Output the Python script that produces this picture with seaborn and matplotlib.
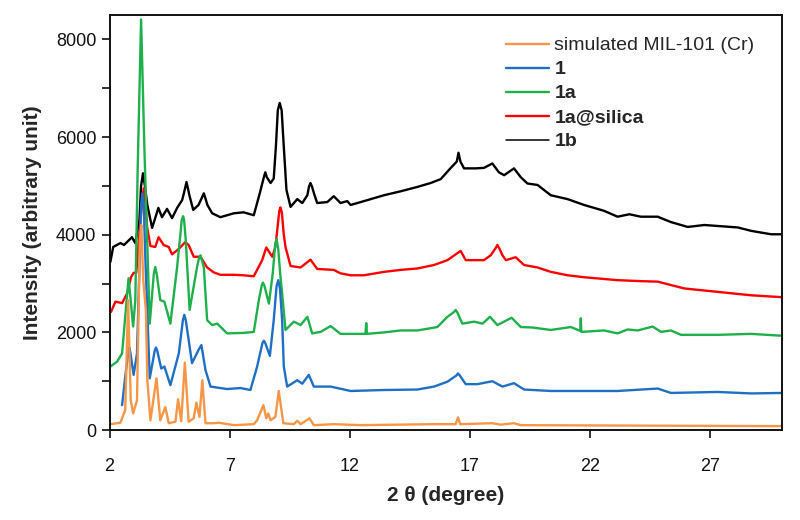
import matplotlib
matplotlib.use("Agg")
import matplotlib.pyplot as plt
from matplotlib.lines import Line2D
from matplotlib.ticker import MultipleLocator
import seaborn as sns
import pandas as pd

# PXRD patterns: 2theta (degree), intensity (arbitrary unit)
sim_x = [2.03, 2.45, 2.65, 2.77, 2.88, 2.98, 3.14, 3.26, 3.32, 3.40, 3.51, 3.57, 3.70, 3.95, 4.11,
         4.32, 4.46, 4.74, 4.85, 4.98, 5.13, 5.29, 5.50, 5.61, 5.74, 5.86, 5.99, 6.33, 6.54, 7.17,
         8.00, 8.14, 8.40, 8.52, 8.60, 8.70, 8.90, 9.04, 9.23, 9.67, 9.81, 9.95, 10.32, 10.50, 11.33,
         12.45, 15.50, 16.40, 16.50, 16.59, 17.93, 18.28, 18.83, 19.11, 24.53, 30.03]
sim_y = [120, 150, 410, 2660, 610, 340, 610, 3890, 4200, 3070, 2460, 1020, 200, 1060, 200,
         470, 140, 170, 630, 180, 1380, 170, 240, 560, 270, 1020, 140, 140, 150, 100,
         120, 200, 510, 240, 340, 200, 270, 800, 140, 120, 190, 120, 240, 100, 120,
         100, 120, 120, 260, 120, 140, 110, 140, 100, 90, 80]

s1_x = [2.52, 2.65, 2.78, 2.82, 2.86, 3.00, 3.14, 3.25, 3.31, 3.36, 3.42, 3.49, 3.67, 3.88, 3.93,
        3.98, 4.15, 4.28, 4.53, 4.88, 5.05, 5.11, 5.17, 5.23, 5.43, 5.70, 5.82, 5.99, 6.20, 6.89,
        7.45, 7.86, 8.14, 8.36, 8.42, 8.48, 8.67, 8.83, 8.95, 9.02, 9.09, 9.18, 9.25, 9.39, 9.81,
        10.02, 10.29, 10.50, 11.20, 12.03, 13.42, 14.81, 15.50, 16.06, 16.44, 16.50, 16.57, 16.82,
        17.31, 17.93, 18.35, 18.83, 19.25, 20.36, 21.75, 23.14, 24.81, 25.36, 27.31, 28.70, 30.03]
s1_y = [510, 1090, 1600, 1690, 1600, 1130, 1570, 3480, 4600, 4850, 4600, 3480, 1060, 1630, 1690,
        1630, 1260, 1300, 920, 1570, 2250, 2360, 2250, 2050, 1370, 1640, 1740, 1230, 890, 840,
        860, 820, 1300, 1780, 1830, 1780, 1520, 2250, 2950, 3070, 2900, 2250, 1300, 890, 1020,
        950, 1130, 890, 890, 800, 820, 830, 890, 990, 1120, 1160, 1120, 940,
        940, 1000, 890, 960, 830, 800, 800, 800, 850, 760, 780, 750, 760]

s1a_x = [2.03, 2.31, 2.52, 2.65, 2.79, 2.98, 3.07, 3.17, 3.31, 3.45, 3.67, 3.84, 3.90, 3.96, 4.11,
         4.28, 4.53, 4.81, 4.95, 5.00, 5.06, 5.10, 5.17, 5.33, 5.64, 5.72, 5.78, 5.92, 6.06, 6.27,
         6.48, 6.89, 7.58, 8.00, 8.21, 8.33, 8.38, 8.44, 8.63, 8.79, 8.89, 8.95, 9.02, 9.10, 9.18,
         9.32, 9.67, 9.95, 10.23, 10.43, 10.78, 11.20, 11.61, 12.45, 12.65, 12.68, 12.71, 13.42,
         14.11, 14.81, 15.64, 16.06, 16.34, 16.40, 16.48, 16.68, 17.17, 17.52, 17.83, 18.14, 18.73,
         19.11, 19.60, 20.36, 21.20, 21.59, 21.61, 21.63, 22.58, 23.14, 23.56, 23.98, 24.60, 24.95,
         25.36, 25.78, 27.31, 28.70, 30.03]
s1a_y = [1300, 1400, 1570, 2320, 3110, 2120, 2660, 5390, 8410, 5730, 2180, 3200, 3340, 3200, 2660,
         2630, 2180, 3340, 4030, 4300, 4380, 4300, 3890, 2460, 3340, 3520, 3580, 3340, 2250, 2150,
         2180, 1980, 1990, 2010, 2660, 2960, 3020, 2960, 2590, 3210, 3800, 3910, 3700, 3200, 2800,
         2050, 2220, 2150, 2320, 1980, 2010, 2130, 1970, 1970, 1970, 2190, 1970, 2000,
         2040, 2040, 2110, 2320, 2420, 2460, 2400, 2180, 2220, 2180, 2320, 2150, 2300,
         2110, 2100, 2050, 2110, 2030, 2290, 2010, 2040, 1980, 2060, 2040, 2120, 2010,
         2040, 1950, 1950, 1970, 1930]

silica_x = [2.06, 2.24, 2.52, 2.73, 2.89, 3.00, 3.11, 3.25, 3.36, 3.42, 3.48, 3.56, 3.70, 3.90, 4.04,
            4.25, 4.46, 4.60, 4.88, 5.15, 5.29, 5.50, 5.78, 6.06, 6.33, 6.61, 7.17, 7.58, 8.00, 8.35,
            8.52, 8.77, 8.90, 9.00, 9.06, 9.11, 9.17, 9.25, 9.32, 9.53, 9.95, 10.36, 10.64, 11.33,
            11.61, 12.03, 12.58, 13.42, 14.11, 14.81, 15.50, 16.06, 16.61, 16.82, 17.24, 17.58, 17.86,
            18.07, 18.14, 18.22, 18.35, 18.49, 18.90, 19.25, 19.81, 20.36, 21.06, 21.75, 23.14, 24.11,
            24.81, 25.36, 25.92, 27.31, 28.70, 30.03]
silica_y = [2420, 2630, 2600, 2800, 3130, 3220, 3220, 4100, 4700, 4950, 4700, 4160, 3770, 3750, 3950,
            3790, 3750, 3600, 3710, 3850, 3790, 3550, 3550, 3330, 3230, 3180, 3180, 3170, 3150, 3480,
            3740, 3550, 3750, 4200, 4480, 4560, 4450, 4000, 3750, 3360, 3330, 3490, 3300, 3280,
            3210, 3170, 3170, 3240, 3280, 3310, 3380, 3480, 3670, 3480, 3480, 3480, 3580,
            3730, 3790, 3720, 3580, 3480, 3540, 3380, 3330, 3240, 3170, 3130, 3070, 3050,
            3040, 2970, 2900, 2830, 2760, 2720]

s1b_x = [2.03, 2.15, 2.45, 2.60, 2.93, 3.07, 3.24, 3.31, 3.39, 3.47, 3.57, 3.77, 4.03, 4.18, 4.39,
         4.60, 4.81, 5.02, 5.14, 5.20, 5.26, 5.32, 5.48, 5.70, 5.86, 5.92, 5.98, 6.07, 6.27, 6.61,
         7.17, 7.58, 8.00, 8.25, 8.42, 8.48, 8.54, 8.70, 8.83, 8.92, 9.00, 9.08, 9.16, 9.25, 9.36,
         9.53, 9.81, 10.02, 10.23, 10.30, 10.36, 10.42, 10.53, 10.64, 11.06, 11.33, 11.61, 11.89,
         12.03, 12.73, 13.42, 14.11, 14.81, 15.36, 15.78, 16.20, 16.45, 16.52, 16.60, 16.75, 17.24,
         17.58, 17.93, 18.20, 18.42, 18.83, 19.11, 19.39, 19.81, 20.36, 21.06, 21.75, 22.58, 23.14,
         23.63, 24.11, 24.81, 25.36, 26.06, 26.75, 28.14, 28.70, 29.53, 30.03]
s1b_y = [3440, 3750, 3830, 3790, 3950, 3830, 4300, 5000, 5260, 5000, 4610, 4140, 4550, 4360, 4530,
         4340, 4550, 4710, 4950, 5080, 4950, 4810, 4510, 4610, 4780, 4850, 4760, 4610, 4440, 4360,
         4440, 4460, 4400, 4850, 5180, 5280, 5180, 5060, 5150, 5800, 6550, 6700, 6550, 5800, 4920,
         4570, 4730, 4650, 4810, 4990, 5060, 4990, 4810, 4650, 4670, 4790, 4650, 4690,
         4610, 4710, 4810, 4890, 4980, 5060, 5140, 5370, 5500, 5680, 5500, 5360, 5360,
         5370, 5460, 5280, 5220, 5360, 5180, 5050, 5020, 4810, 4730, 4610, 4490, 4370,
         4420, 4370, 4370, 4260, 4160, 4200, 4150, 4080, 4010, 4010]

labels = ["simulated MIL-101 (Cr)", "1", "1a", "1a@silica", "1b"]
colors = ["#F79646", "#1F6FC5", "#1DB04B", "#FF0000", "#000000"]
xs = [sim_x, s1_x, s1a_x, silica_x, s1b_x]
ys = [sim_y, s1_y, s1a_y, silica_y, s1b_y]

frames = []
for lab, x, y in zip(labels, xs, ys):
    frames.append(pd.DataFrame({"two_theta": x, "intensity": y, "sample": lab}))
df = pd.concat(frames, ignore_index=True)

sns.set_style("ticks")
plt.rcParams["font.family"] = ["Liberation Sans", "DejaVu Sans"]

fig = plt.figure(figsize=(8, 5.2), dpi=100)
ax = fig.add_axes([0.137, 0.173, 0.841, 0.798])

# draw back to front so the simulated pattern sits on top
order = labels[::-1]
sns.lineplot(data=df, x="two_theta", y="intensity", hue="sample", hue_order=order,
             palette=dict(zip(labels, colors)), sort=False, estimator=None,
             linewidth=1.7, legend=False, ax=ax)

ax.set_xlim(2, 30)
ax.set_ylim(0, 8500)
ax.set_xticks([2, 7, 12, 17, 22, 27])
ax.set_yticks([0, 2000, 4000, 6000, 8000])
ax.yaxis.set_minor_locator(MultipleLocator(1000))
ax.tick_params(axis="both", which="major", direction="out", length=6, width=1.2,
               labelsize=13, colors="#111111")
ax.tick_params(axis="y", which="minor", direction="out", length=6, width=1.2, colors="#111111")
ax.tick_params(axis="x", pad=14)
for sp in ax.spines.values():
    sp.set_visible(True)
    sp.set_linewidth(1.4)
    sp.set_color("#111111")

ax.set_xlabel("2 θ (degree)", fontsize=15, fontweight="bold", labelpad=8)
ax.set_ylabel("Intensity (arbitrary unit)", fontsize=15, fontweight="bold", labelpad=10)

handles = [Line2D([0], [0], color=c, lw=1.7 if lab != "1b" else 1.1) for lab, c in zip(labels, colors)]
leg = ax.legend(handles, labels, loc="upper left", bbox_to_anchor=(0.563, 0.99), frameon=False,
                fontsize=14, handlelength=2.2, handletextpad=0.3, labelspacing=0.33)
for i, t in enumerate(leg.get_texts()):
    if i > 0:
        t.set_fontweight("bold")

fig.savefig("out.png", dpi=100)
